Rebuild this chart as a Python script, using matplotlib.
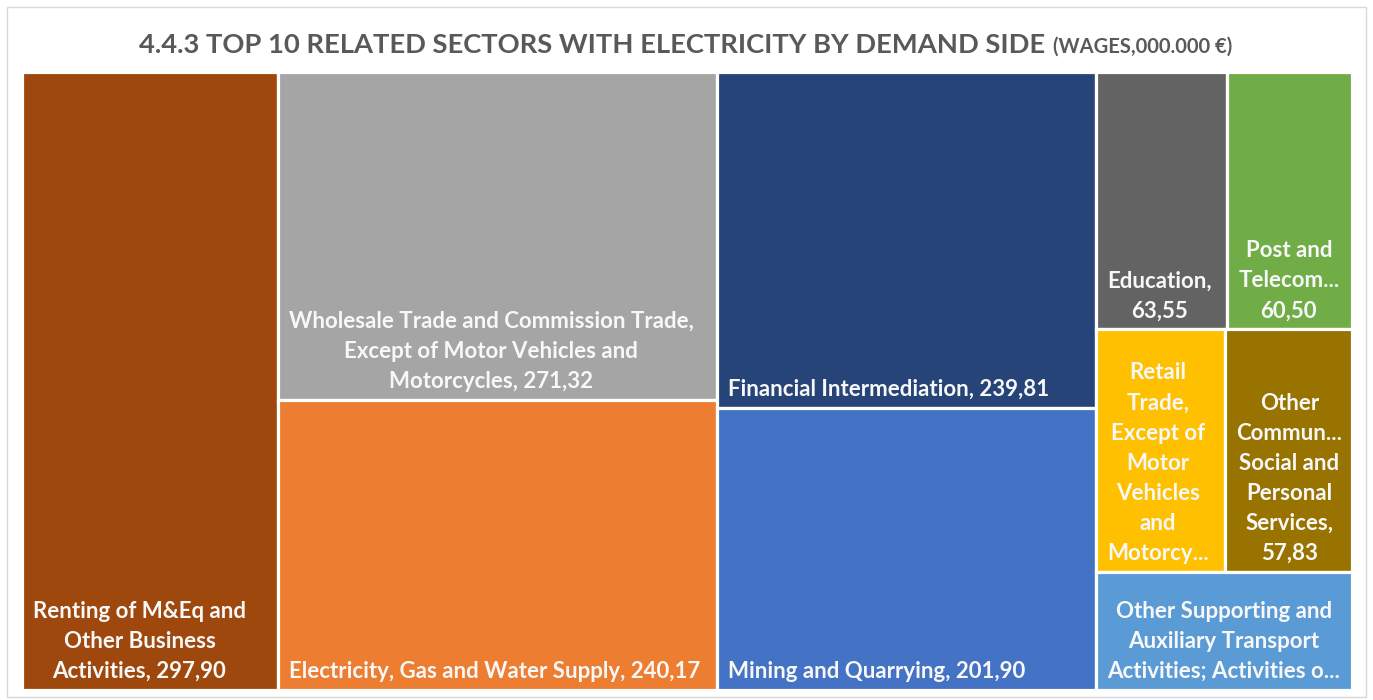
import matplotlib
matplotlib.use("Agg")
import matplotlib.pyplot as plt
from matplotlib.patches import Rectangle

plt.rcParams['font.family'] = ['Lato', 'DejaVu Sans']

# wages by sector, 000.000 EUR
sectors = ["Renting of M&Eq and Other Business Activities",
           "Wholesale Trade and Commission Trade, Except of Motor Vehicles and Motorcycles",
           "Electricity, Gas and Water Supply",
           "Financial Intermediation",
           "Mining and Quarrying",
           "Education",
           "Post and Telecommunications",
           "Retail Trade, Except of Motor Vehicles and Motorcycles",
           "Other Community, Social and Personal Services",
           "Other Supporting and Auxiliary Transport Activities; Activities of Travel Agencies"]
wages = [297.90, 271.32, 240.17, 239.81, 201.90, 63.55, 60.50, 58.95, 57.83, 57.10]

# wrapped tile labels, {v} is where the value goes
labels = ["Renting of M&Eq and\nOther Business\nActivities, {v}",
          "Wholesale Trade and Commission Trade,\nExcept of Motor Vehicles and\nMotorcycles, {v}",
          "Electricity, Gas and Water Supply, {v}",
          "Financial Intermediation, {v}",
          "Mining and Quarrying, {v}",
          "Education,\n{v}",
          "Post and\nTelecom...\n{v}",
          "Retail\nTrade,\nExcept of\nMotor\nVehicles\nand\nMotorcy...",
          "Other\nCommun...\nSocial and\nPersonal\nServices,\n{v}",
          "Other Supporting and\nAuxiliary Transport\nActivities; Activities o..."]

colors = ["#9E480E", "#A5A5A5", "#ED7D31", "#264478", "#4472C4",
          "#636363", "#70AD47", "#FFC000", "#997300", "#5B9BD5"]

# columns -> rows -> tiles
groups = [[[0]], [[1], [2]], [[3], [4]], [[5, 6], [7, 8], [9]]]

W, H = 1373, 700
fig = plt.figure(figsize=(W / 100, H / 100), dpi=100)
fig.patch.set_facecolor("white")
fig.add_artist(Rectangle((7 / W, 3 / H), 1359 / W, 690 / H, transform=fig.transFigure,
                         fill=False, edgecolor="#D9D9D9", lw=1))

ax = fig.add_axes([22 / W, 10 / H, 1330 / W, 618 / H])
ax.set_xlim(0, 1)
ax.set_ylim(1, 0)
ax.axis("off")

total = sum(wages)
x = 0.0
for col in groups:
    colsum = sum(wages[i] for row in col for i in row)
    cw = colsum / total
    y = 0.0
    for row in col:
        rowsum = sum(wages[i] for i in row)
        rh = rowsum / colsum
        xx = x
        for i in row:
            tw = cw * wages[i] / rowsum
            ax.add_patch(Rectangle((xx, y), tw, rh, facecolor=colors[i],
                                   edgecolor="white", lw=2.3))
            txt = labels[i].format(v=f"{wages[i]:.2f}".replace(".", ","))
            ax.annotate(txt, (xx, y + rh), xytext=(11, 8), textcoords="offset pixels",
                        ha="left", va="bottom", multialignment="center",
                        color="#F8F8F8", fontsize=16, fontweight="bold", linespacing=1.53)
            xx += tw
        y += rh
    x += cw

# title in two sizes, centred as one line
t1 = fig.text(0, 1 - 45 / H, "4.4.3 TOP 10 RELATED SECTORS WITH ELECTRICITY BY DEMAND SIDE",
              fontsize=19.7, fontweight="bold", color="#595959", va="center")
t2 = fig.text(0, 1 - 47 / H, "(WAGES,000.000 €)", fontsize=14.5, fontweight="bold",
              color="#595959", va="center")
r = fig.canvas.get_renderer()
w1 = t1.get_window_extent(r).width
w2 = t2.get_window_extent(r).width
start = (686 - (w1 + 8 + w2) / 2) / W
t1.set_x(start)
t2.set_x(start + (w1 + 8) / W)

fig.savefig("out.png", dpi=100)
